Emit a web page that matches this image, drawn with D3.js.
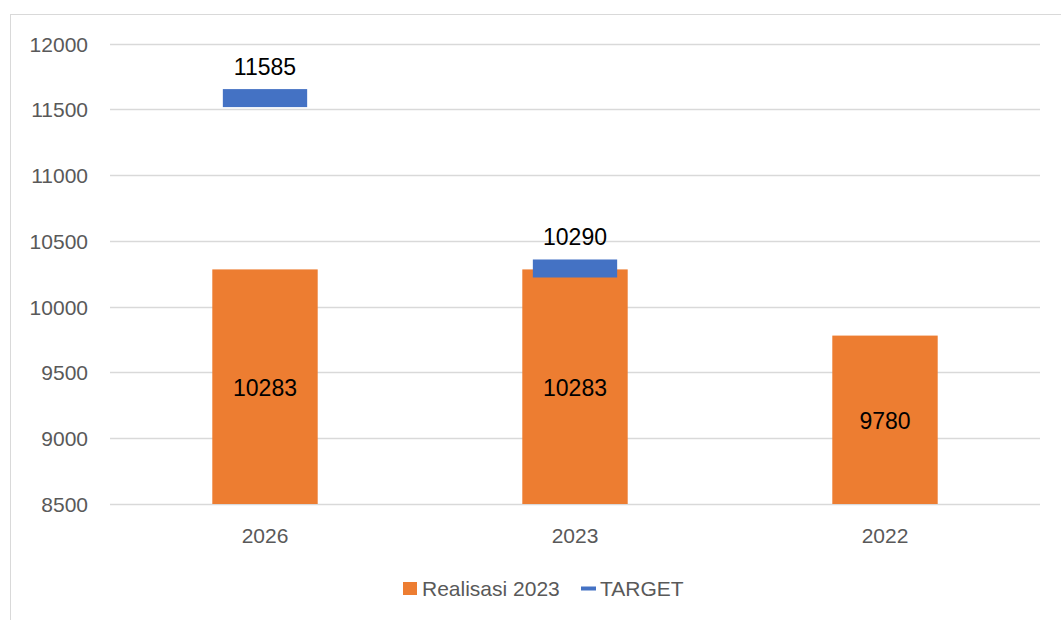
<!doctype html>
<html>
<head>
    <meta charset="utf-8">
    <style>
        body { margin: 0; background: #fff; }
        text { font-family: "Liberation Sans", Arial, sans-serif; }
    </style>
    <script src="https://d3js.org/d3.v7.min.js"></script>
</head>
<body>
    <svg width="1061" height="620"></svg>
    <script>
        // chart data
        var categories = ["2026", "2023", "2022"];
        var realisasi = [10283, 10283, 9780];
        var target = [11585, 10290, null];
        var yTicks = [8500, 9000, 9500, 10000, 10500, 11000, 11500, 12000];

        var svg = d3.select("svg");

        // outer frame (only left and top edges visible)
        svg.append("rect")
            .attr("x", 10.5).attr("y", 14.5)
            .attr("width", 1100).attr("height", 700)
            .attr("fill", "none")
            .attr("stroke", "#d9d9d9");

        var x = d3.scaleBand()
            .domain(categories)
            .range([110, 1040])
            .paddingInner(0.66)
            .paddingOuter(0.33);

        var y = d3.scaleLinear()
            .domain([8500, 12000])
            .range([504, 43.5]);

        // gridlines
        svg.append("g")
            .selectAll("line")
            .data(yTicks)
            .enter().append("line")
            .attr("x1", 110).attr("x2", 1040)
            .attr("y1", d => Math.round(y(d)) + 0.5)
            .attr("y2", d => Math.round(y(d)) + 0.5)
            .attr("stroke", "#d9d9d9")
            .attr("stroke-width", 1.5);

        // y axis labels
        var yAxis = svg.append("g")
            .attr("transform", "translate(88,0)")
            .call(d3.axisLeft(y).tickValues(yTicks).tickSize(0).tickPadding(0).tickFormat(d3.format("d")));
        yAxis.select(".domain").remove();
        yAxis.selectAll("text")
            .attr("font-family", "Liberation Sans, Arial, sans-serif")
            .attr("font-size", "21px")
            .attr("fill", "#595959")
            .attr("dy", "0.36em");

        // x axis labels
        var xAxis = svg.append("g")
            .attr("transform", "translate(0,504)")
            .call(d3.axisBottom(x).tickSize(0).tickPadding(0));
        xAxis.select(".domain").remove();
        xAxis.selectAll("text")
            .attr("font-family", "Liberation Sans, Arial, sans-serif")
            .attr("font-size", "21px")
            .attr("fill", "#595959")
            .attr("dy", "1.87em");

        // bars
        svg.selectAll(".bar")
            .data(realisasi)
            .enter().append("rect")
            .attr("class", "bar")
            .attr("x", (d, i) => x(categories[i]))
            .attr("y", d => y(d))
            .attr("width", x.bandwidth())
            .attr("height", d => y(8500) - y(d))
            .attr("fill", "#ED7D31");

        svg.selectAll(".barlabel")
            .data(realisasi)
            .enter().append("text")
            .attr("class", "barlabel")
            .attr("x", (d, i) => x(categories[i]) + x.bandwidth() / 2)
            .attr("y", d => (y(d) + y(8500)) / 2)
            .attr("dy", "0.4em")
            .attr("text-anchor", "middle")
            .attr("font-size", "23px")
            .attr("fill", "#000")
            .text(d => d);

        // target markers
        var tdata = target.map((v, i) => ({ cat: categories[i], v: v })).filter(d => d.v != null);
        var mw = x.bandwidth() * 0.8, mh = 18;

        svg.selectAll(".target")
            .data(tdata)
            .enter().append("rect")
            .attr("class", "target")
            .attr("x", d => x(d.cat) + (x.bandwidth() - mw) / 2)
            .attr("y", d => y(d.v) - mh / 2)
            .attr("width", mw)
            .attr("height", mh)
            .attr("fill", "#4472C4");

        svg.selectAll(".tlabel")
            .data(tdata)
            .enter().append("text")
            .attr("class", "tlabel")
            .attr("x", d => x(d.cat) + x.bandwidth() / 2)
            .attr("y", d => y(d.v) - mh / 2 - 14)
            .attr("text-anchor", "middle")
            .attr("font-size", "23px")
            .attr("fill", "#000")
            .text(d => d.v);

        // legend
        var legend = svg.append("g");
        legend.append("rect")
            .attr("x", 403).attr("y", 582)
            .attr("width", 14).attr("height", 13)
            .attr("fill", "#ED7D31");
        legend.append("text")
            .attr("x", 422).attr("y", 596)
            .attr("font-size", "21px")
            .attr("fill", "#595959")
            .text("Realisasi 2023");
        legend.append("rect")
            .attr("x", 581).attr("y", 586.5)
            .attr("width", 15).attr("height", 4)
            .attr("fill", "#4472C4");
        legend.append("text")
            .attr("x", 600).attr("y", 596)
            .attr("font-size", "21px")
            .attr("fill", "#595959")
            .text("TARGET");
    </script>
</body>
</html>
